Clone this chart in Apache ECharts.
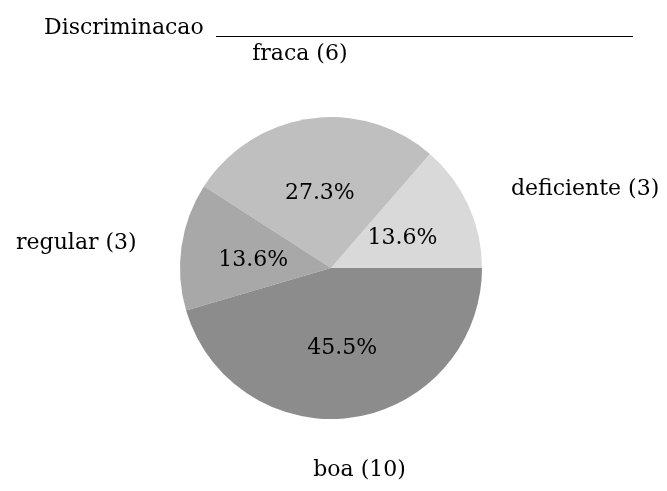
<!DOCTYPE html>
<html>
<head>
<meta charset="utf-8">
<script src="https://cdn.jsdelivr.net/npm/echarts@6/dist/echarts.min.js"></script>
<style>
  html, body { margin: 0; padding: 0; background: #fff; }
  #chart { width: 667px; height: 491px; }
</style>
</head>
<body>
<div id="chart"></div>
<script>
// Discriminacao: item counts per class
const categories = ['deficiente', 'fraca', 'regular', 'boa'];
const counts = [3, 6, 3, 10];
const sliceColors = ['#d9d9d9', '#bfbfbf', '#a8a8a8', '#8c8c8c'];

// pie geometry (pixels) and how far each outer label sits, in radii
const CX = 331, CY = 268, R = 151;
const labelReach = [1.31, 1.45, 1.3, 1.33];
const FONT = 'DejaVu Serif';

const total = counts.reduce((s, v) => s + v, 0);
// mid-angle of every slice, counter-clockwise from 3 o'clock
const midAngles = [];
let acc = 0;
counts.forEach(v => {
  midAngles.push((acc + v / 2) / total * 2 * Math.PI);
  acc += v;
});

const data = categories.map((name, i) => ({
  name: name,
  value: counts[i],
  itemStyle: { color: sliceColors[i] }
}));

const chart = echarts.init(document.getElementById('chart'), null, { renderer: 'canvas' });
chart.setOption({
  backgroundColor: '#ffffff',
  animation: false,
  title: {
    text: 'Discriminacao',
    left: 44,
    top: 17,
    padding: 0,
    textStyle: { fontFamily: FONT, fontSize: 22, fontWeight: 'normal', color: '#000' }
  },
  graphic: [{
    type: 'line',
    shape: { x1: 216, y1: 36.5, x2: 633, y2: 36.5 },
    style: { stroke: '#000', lineWidth: 1.2 }
  }],
  series: [
    {
      type: 'pie',
      center: [CX, CY],
      radius: [0, R],
      startAngle: 0,
      clockwise: false,
      silent: true,
      data: data,
      itemStyle: { borderWidth: 0 },
      label: {
        show: true,
        position: 'inside',
        fontFamily: FONT,
        fontSize: 22,
        color: '#000',
        formatter: p => (p.value / total * 100).toFixed(1) + '%'
      },
      labelLine: { show: false },
      labelLayout: { dy: 3 }
    },
    {
      type: 'pie',
      center: [CX, CY],
      radius: [0, R],
      startAngle: 0,
      clockwise: false,
      silent: true,
      data: categories.map((name, i) => ({ name: name, value: counts[i] })),
      itemStyle: { color: 'rgba(0,0,0,0)', borderWidth: 0 },
      label: {
        show: true,
        position: 'outside',
        alignTo: 'none',
        overflow: 'none',
        fontFamily: FONT,
        fontSize: 22,
        color: '#000',
        formatter: p => p.name + ' (' + p.value + ')'
      },
      labelLine: { show: false },
      labelLayout: function (p) {
        const i = p.dataIndex;
        const a = midAngles[i];
        const r = R * labelReach[i];
        const c = Math.cos(a);
        return {
          x: CX + r * c,
          y: CY - r * Math.sin(a) + 3,
          align: Math.abs(c) < 0.5 ? 'center' : (c > 0 ? 'left' : 'right'),
          verticalAlign: 'middle'
        };
      }
    }
  ]
});
</script>
</body>
</html>
